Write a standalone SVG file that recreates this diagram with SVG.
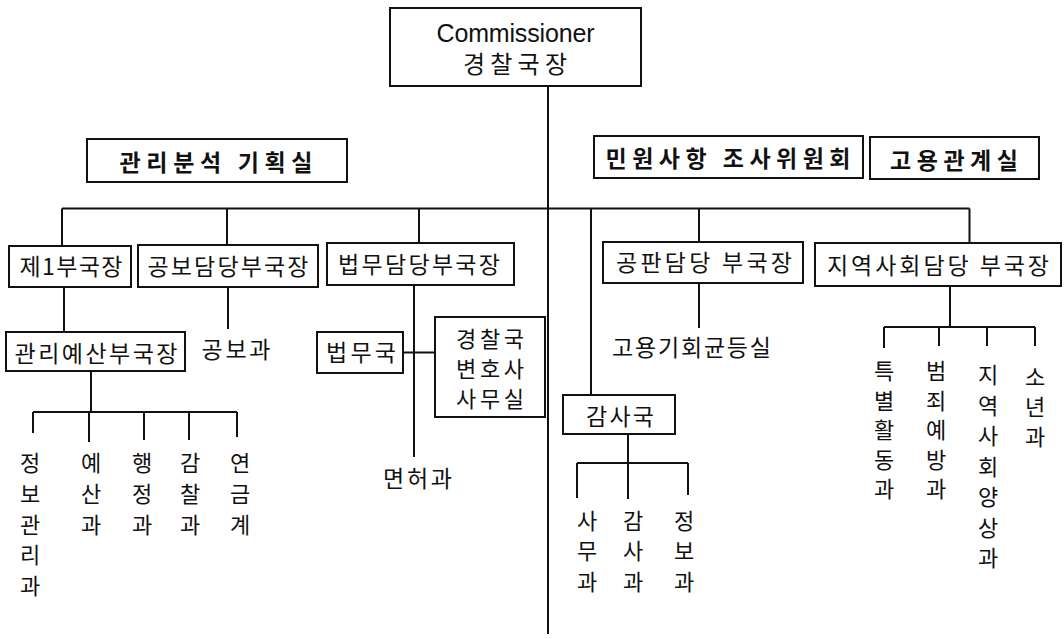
<svg xmlns="http://www.w3.org/2000/svg" width="1064" height="639" viewBox="0 0 1064 639">
<style>
.bg{fill:#ffffff}
.box{fill:#ffffff;stroke:#111111;stroke-width:2}
.ln{fill:none;stroke:#111111;stroke-width:2}
.t{font-family:"Noto Sans CJK KR","Noto Sans",sans-serif;font-size:23px;fill:#111111;text-anchor:middle}
.tb{font-weight:bold}
.v{font-family:"Noto Sans CJK KR","Noto Sans",sans-serif;font-size:22px;fill:#111111;text-anchor:middle}
.en{font-family:"Liberation Sans",Arial,sans-serif;font-size:25px;fill:#111111;text-anchor:middle}
</style>
<rect class="bg" x="0" y="0" width="1064" height="639"/>
<g id="connectors">
<path class="ln" d="M548 86V634"/>
<path class="ln" d="M62 208.5H969.5"/>
<path class="ln" d="M62 208.5V246M227 208.5V245M419 208.5V243M591 208.5V395M699 208.5V242M969.5 208.5V243"/>
<path class="ln" d="M64 287V332M228 287V329M414 285V457M403 352.5H435"/>
<path class="ln" d="M91 371V412M33 412H237M33 412V433M89 412V442M144 412V440M189 412V440M237 412V437"/>
<path class="ln" d="M699 283V328"/>
<path class="ln" d="M628 434V499M577 463H688M577 463V498M688 463V495"/>
<path class="ln" d="M950 286V327M884 327H1035M884 327V348M939 327V346M987 327V346M1035 327V346"/>
</g>
<g id="commissioner">
<rect class="box" x="390" y="8" width="251" height="78"/>
<text class="en" x="515.5" y="42" textLength="158">Commissioner</text>
<text class="t" x="515" y="72.8" textLength="104" style="font-size:24px">경찰국장</text>
</g>
<g id="planning">
<rect class="box" x="87" y="139" width="260" height="43"/>
<text class="t tb" x="216" y="170.7" textLength="193">관리분석 기획실</text>
</g>
<g id="complaints">
<rect class="box" x="594" y="136" width="269" height="42"/>
<text class="t tb" x="728" y="166.7" textLength="245">민원사항 조사위원회</text>
</g>
<g id="employment-relations">
<rect class="box" x="870" y="137" width="169" height="42"/>
<text class="t tb" x="954" y="168.7" textLength="128">고용관계실</text>
</g>
<g id="deputy1">
<rect class="box" x="9" y="246" width="122" height="41"/>
<text class="t" x="71" y="274.7" textLength="103">제1부국장</text>
</g>
<g id="pr-deputy">
<rect class="box" x="138" y="245" width="180" height="42"/>
<text class="t" x="228" y="274.7" textLength="161">공보담당부국장</text>
</g>
<g id="legal-deputy">
<rect class="box" x="327" y="243" width="187" height="42"/>
<text class="t" x="419" y="272.7" textLength="162">법무담당부국장</text>
</g>
<g id="trial-deputy">
<rect class="box" x="603" y="242" width="200" height="41"/>
<text class="t" x="704" y="271.2" textLength="176">공판담당 부국장</text>
</g>
<g id="community-deputy">
<rect class="box" x="815" y="243" width="246" height="43"/>
<text class="t" x="938" y="273.7" textLength="222">지역사회담당 부국장</text>
</g>
<g id="budget-deputy">
<rect class="box" x="6" y="332" width="179" height="39"/>
<text class="t" x="96" y="361.7" textLength="163">관리예산부국장</text>
</g>
<g id="pr-division">
<text class="t" x="236" y="357.7" textLength="69">공보과</text>
</g>
<g id="legal-bureau">
<rect class="box" x="317" y="332" width="86" height="41"/>
<text class="t" x="361" y="361.2" textLength="70">법무국</text>
</g>
<g id="police-lawyer-office">
<rect class="box" x="435" y="317" width="110" height="100"/>
<text class="t" style="font-size:22px"><tspan x="490" y="347.4" textLength="68">경찰국</tspan><tspan x="490" y="377.4" textLength="68">변호사</tspan><tspan x="490" y="407.4" textLength="68">사무실</tspan></text>
</g>
<g id="license-division">
<text class="t" x="417.5" y="486.7" textLength="69">면허과</text>
</g>
<g id="equal-opportunity">
<text class="t" x="691.5" y="356.2" textLength="159">고용기회균등실</text>
</g>
<g id="audit-bureau">
<rect class="box" x="563" y="395" width="112" height="39"/>
<text class="t" x="620" y="424.7" textLength="68">감사국</text>
</g>
<g id="info-mgmt"><text class="v"><tspan x="30" y="471.4">정</tspan><tspan x="30" y="502.4">보</tspan><tspan x="30" y="533.4">관</tspan><tspan x="30" y="563.4">리</tspan><tspan x="30" y="594.4">과</tspan></text></g>
<g id="budget-div"><text class="v"><tspan x="91" y="471.4">예</tspan><tspan x="91" y="502.4">산</tspan><tspan x="91" y="533.4">과</tspan></text></g>
<g id="admin-div"><text class="v"><tspan x="142" y="471.4">행</tspan><tspan x="142" y="502.4">정</tspan><tspan x="142" y="533.4">과</tspan></text></g>
<g id="inspection-div"><text class="v"><tspan x="190" y="471.4">감</tspan><tspan x="190" y="502.4">찰</tspan><tspan x="190" y="533.4">과</tspan></text></g>
<g id="pension"><text class="v"><tspan x="240" y="471.4">연</tspan><tspan x="240" y="502.4">금</tspan><tspan x="240" y="533.4">계</tspan></text></g>
<g id="general-affairs"><text class="v"><tspan x="587" y="529.4">사</tspan><tspan x="587" y="559.4">무</tspan><tspan x="587" y="590.4">과</tspan></text></g>
<g id="audit-div"><text class="v"><tspan x="633" y="529.4">감</tspan><tspan x="633" y="559.4">사</tspan><tspan x="633" y="590.4">과</tspan></text></g>
<g id="info-div"><text class="v"><tspan x="684" y="529.4">정</tspan><tspan x="684" y="559.4">보</tspan><tspan x="684" y="590.4">과</tspan></text></g>
<g id="special-ops"><text class="v"><tspan x="884" y="379.4">특</tspan><tspan x="884" y="408.9">별</tspan><tspan x="884" y="438.4">활</tspan><tspan x="884" y="467.9">동</tspan><tspan x="884" y="497.4">과</tspan></text></g>
<g id="crime-prevention"><text class="v"><tspan x="936" y="379.4">범</tspan><tspan x="936" y="408.9">죄</tspan><tspan x="936" y="438.4">예</tspan><tspan x="936" y="467.9">방</tspan><tspan x="936" y="497.4">과</tspan></text></g>
<g id="community-div"><text class="v"><tspan x="988" y="383.4">지</tspan><tspan x="988" y="413.9">역</tspan><tspan x="988" y="444.4">사</tspan><tspan x="988" y="474.9">회</tspan><tspan x="988" y="505.4">양</tspan><tspan x="988" y="535.9">상</tspan><tspan x="988" y="566.4">과</tspan></text></g>
<g id="juvenile-div"><text class="v"><tspan x="1035" y="385.4">소</tspan><tspan x="1035" y="415.4">년</tspan><tspan x="1035" y="445.4">과</tspan></text></g>
</svg>
